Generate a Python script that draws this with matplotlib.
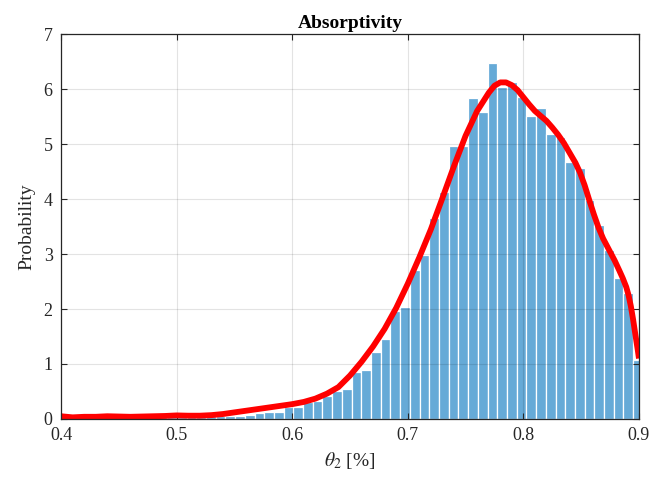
import numpy as np
import matplotlib
matplotlib.use("Agg")
import matplotlib.pyplot as plt

plt.rcParams['font.family'] = ['Liberation Serif', 'DejaVu Serif']
plt.rcParams['mathtext.fontset'] = 'stix'

# histogram bins (left edge of first bin and bin width)
bin_start = 0.3994
bin_width = 0.0084
probability = [0.02, 0.02, 0.02, 0.03, 0.02, 0.03, 0.03, 0.03, 0.03, 0.03,
               0.04, 0.04, 0.04, 0.04, 0.04, 0.05, 0.05, 0.05, 0.06, 0.08,
               0.10, 0.12, 0.13, 0.21, 0.22, 0.30, 0.33, 0.42, 0.51, 0.54,
               0.86, 0.89, 1.21, 1.45, 1.96, 2.03, 2.71, 2.98, 3.65, 4.13,
               4.96, 4.97, 5.83, 5.58, 6.47, 6.03, 6.12, 5.85, 5.51, 5.65,
               5.18, 5.12, 4.68, 4.57, 3.98, 3.52, 3.07, 2.56, 2.30, 1.07]

# smoothed density estimate
kde_x = [0.400, 0.405, 0.410, 0.420, 0.430, 0.440, 0.450, 0.460, 0.470, 0.480,
         0.490, 0.500, 0.510, 0.520, 0.530, 0.540, 0.550, 0.560, 0.570, 0.580,
         0.590, 0.600, 0.610, 0.620, 0.630, 0.640, 0.650, 0.660, 0.670, 0.680,
         0.690, 0.700, 0.710, 0.720, 0.730, 0.740, 0.750, 0.760, 0.770, 0.775,
         0.780, 0.785, 0.790, 0.795, 0.800, 0.805, 0.810, 0.815, 0.820, 0.825,
         0.830, 0.835, 0.840, 0.845, 0.849, 0.853, 0.857, 0.861, 0.865, 0.869,
         0.874, 0.879, 0.883, 0.886, 0.889, 0.891, 0.893, 0.895, 0.897, 0.899,
         0.900]
kde_y = [0.05, 0.04, 0.03, 0.04, 0.04, 0.05, 0.045, 0.04, 0.045, 0.05,
         0.055, 0.065, 0.06, 0.06, 0.07, 0.09, 0.12, 0.15, 0.18, 0.21,
         0.24, 0.27, 0.31, 0.37, 0.46, 0.58, 0.79, 1.04, 1.32, 1.64,
         2.02, 2.46, 2.94, 3.45, 4.02, 4.60, 5.15, 5.60, 5.93, 6.06,
         6.12, 6.12, 6.07, 5.98, 5.85, 5.72, 5.60, 5.51, 5.42, 5.30,
         5.17, 5.02, 4.84, 4.66, 4.48, 4.25, 3.98, 3.72, 3.48, 3.28,
         3.08, 2.88, 2.70, 2.56, 2.40, 2.25, 2.05, 1.80, 1.52, 1.25,
         1.10]

xticks = [0.4, 0.5, 0.6, 0.7, 0.8, 0.9]
yticks = [0, 1, 2, 3, 4, 5, 6, 7]

fig = plt.figure(figsize=(6.52, 4.88), dpi=100)
ax = fig.add_axes([0.0936, 0.1414, 0.8864, 0.7889])

lefts = bin_start + bin_width * np.arange(len(probability))
ax.bar(lefts, probability, width=bin_width, align='edge',
       color='#66aad7', edgecolor='white', linewidth=0.9, zorder=1)

ax.grid(True, color='black', alpha=0.11, linewidth=0.8, zorder=2)
ax.set_axisbelow(False)

ax.plot(kde_x, kde_y, color='red', linewidth=4.2, solid_capstyle='butt',
        solid_joinstyle='round', zorder=3)

ax.set_xlim(0.4, 0.9)
ax.set_ylim(0, 7)
ax.set_xticks(xticks)
ax.set_xticklabels([f'{t:g}' for t in xticks])
ax.set_yticks(yticks)

ax.tick_params(direction='in', length=4, width=0.8, top=True, right=True,
               labelsize=13, colors='#262626', pad=6)
for s in ax.spines.values():
    s.set_color('#262626')
    s.set_linewidth(0.9)
    s.set_zorder(4)

ax.set_title('Absorptivity', fontsize=14, fontweight='bold', pad=4)
ax.set_xlabel(r'$\theta_2$ [%]', fontsize=14, color='#262626', labelpad=4)
ax.set_ylabel('Probability', fontsize=14, color='#262626', labelpad=6)

fig.savefig('out.png', dpi=100)
